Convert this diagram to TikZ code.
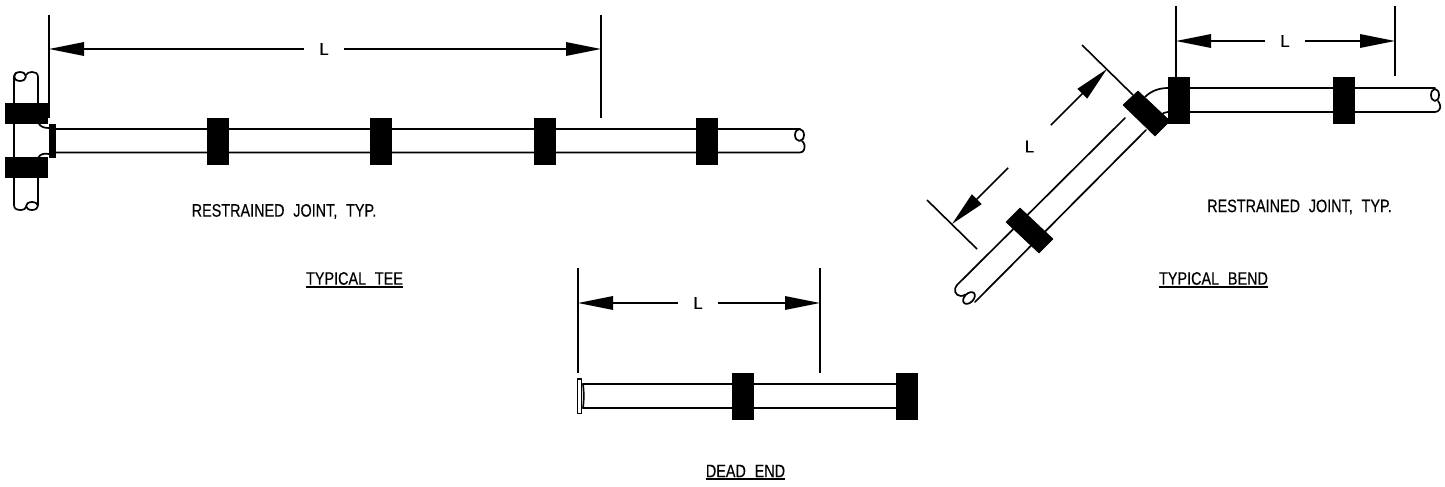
\documentclass[tikz,border=0pt]{standalone}
\usepackage{fontspec}
\newfontfamily\cadfont[FakeStretch=0.8,WordSpace=2.2,FakeBold=0.35]{Liberation Sans}
\newfontfamily\dimfont[FakeBold=0.25]{Liberation Sans}
\usetikzlibrary{arrows.meta}
\tikzset{
  pipeline/.style={line width=1.7pt,line cap=round,line join=round},
  extline/.style={line width=1.6pt},
  dimarrow/.style={line width=1.6pt,-{Triangle[length=35pt,width=13.5pt]}},
  jointblock/.style={fill=black,draw=black,line width=.6pt},
  dimlabel/.style={circle,inner sep=0pt,minimum size=40pt,font=\dimfont\fontsize{17}{18}\selectfont},
  note/.style={inner sep=0pt,font=\cadfont\fontsize{18}{19}\selectfont},
  titleline/.style={line width=1.5pt}
}
\begin{document}
\begin{tikzpicture}[x=1pt,y=-1pt]
\useasboundingbox (0,0) rectangle (1445,487);
% --- TEE ---
\draw[pipeline] (14,78) -- (14,205) .. controls (14,209) and (17,210) .. (21,210)
   .. controls (24,210) and (25,209) .. (26,207);
\draw[pipeline] (32,206) ellipse (6pt and 4pt);
\draw[pipeline] (38,205) -- (38,177);
\draw[pipeline] (38,103) -- (38,77) .. controls (38,73) and (35,72) .. (32,72)
   .. controls (29,72) and (27,73) .. (26,75);
\draw[pipeline] (20,76.5) ellipse (6pt and 4.5pt);
\draw[pipeline] (14,78) .. controls (14,75) and (15,74) .. (16,73);
\draw[pipeline] (38,122) .. controls (40,127) and (44,128) .. (49,128);
\draw[pipeline] (38,158) .. controls (40,154) and (44,153) .. (49,154);
\draw[pipeline] (56,129) -- (800,129);
\draw[pipeline] (56,152.5) -- (800,152.5) .. controls (804,152.5) and (805,148) .. (804.5,145)
   .. controls (804,143) and (803,142) .. (802,141);
\draw[pipeline] (799.5,135) ellipse (4.5pt and 6pt);
\fill[black] (49,124) rectangle (56,158);
\foreach \jx in {207,370,534,696}{\filldraw[jointblock] (\jx,118) rectangle ++(21,46);}
\filldraw[jointblock] (5,103) rectangle (47,123);
\filldraw[jointblock] (5,157) rectangle (47,177);
\draw[extline] (49,15) -- (49,118);
\draw[extline] (601,15) -- (601,118);
\node[dimlabel] (ltee) at (324,49) {L};
\coordinate (teeA) at (49,49);
\coordinate (teeB) at (601,49);
\draw[dimarrow] (ltee) -- (teeA);
\draw[dimarrow] (ltee) -- (teeB);
\node[note] (nt1) at (284,211.5) {RESTRAINED JOINT, TYP.};
\node[note] (tt1) at (354.5,278.5) {TYPICAL TEE};
\draw[titleline] ([yshift=-1.8pt]tt1.south west) -- ([yshift=-1.8pt]tt1.south east);
% --- DEAD END ---
\draw[pipeline] (583,384) -- (896,384);
\draw[pipeline] (583,408) -- (896,408);
\draw[pipeline] (583,384) .. controls (584,392) and (584,400) .. (583,408);
\draw[pipeline,fill=white] (577.5,379) rectangle (581.5,413.5);
\foreach \jx in {732,896}{\filldraw[jointblock] (\jx,373) rectangle ++(21,46);}
\draw[extline] (578,268) -- (578,373);
\draw[extline] (820,268) -- (820,373);
\node[dimlabel] (ldead) at (698,303) {L};
\coordinate (deadA) at (578,303);
\coordinate (deadB) at (820,303);
\draw[dimarrow] (ldead) -- (deadA);
\draw[dimarrow] (ldead) -- (deadB);
\node[note] (tt3) at (745.5,471) {DEAD END};
\draw[titleline] ([yshift=-1.8pt]tt3.south west) -- ([yshift=-1.8pt]tt3.south east);
% --- BEND ---
\draw[pipeline] (1189,88) -- (1435,88);
\draw[pipeline] (1189,112) -- (1435,112) .. controls (1439,112) and (1441,108) .. (1440,105)
   .. controls (1439.5,103) and (1438.5,102) .. (1438,101);
\draw[pipeline] (1435,95) ellipse (4pt and 6pt);
\draw[pipeline] (1145,97) .. controls (1151,91) and (1159,88) .. (1168,88);
\draw[pipeline] (1160,116) .. controls (1163,113) and (1165,112) .. (1168,112);
\draw[pipeline] (1125,118) -- (957,285) .. controls (953,289) and (955,296) .. (961,296)
   .. controls (963,296) and (964,295.5) .. (965,294.5);
\draw[pipeline] (1146,130) -- (975,302);
\draw[pipeline,rotate around={45:(969,298)}] (969,298) ellipse (7pt and 4.5pt);
\foreach \jx in {1168,1333}{\filldraw[jointblock] (\jx,77) rectangle ++(21,46);}
\filldraw[jointblock] (1138,91) -- (1123,105) -- (1155,136) -- (1170,121) -- cycle;
\filldraw[jointblock] (1020,208) -- (1006,222) -- (1039,253) -- (1053,239) -- cycle;
\draw[extline] (1176,6) -- (1176,77);
\draw[extline] (1395,6) -- (1395,76);
\node[dimlabel] (lbendh) at (1285,41) {L};
\coordinate (bendA) at (1176,41);
\coordinate (bendB) at (1395,41);
\draw[dimarrow] (lbendh) -- (bendA);
\draw[dimarrow] (lbendh) -- (bendB);
\draw[extline] (1082,45) -- (1133,95);
\draw[extline] (927,200) -- (977,249);
\node[dimlabel,minimum size=60pt] (lbendd) at (1029.5,146.5) {L};
\coordinate (bendC) at (1107,69);
\coordinate (bendD) at (952,224);
\draw[dimarrow] (lbendd) -- (bendC);
\draw[dimarrow] (lbendd) -- (bendD);
\node[note] (nt2) at (1299.5,207) {RESTRAINED JOINT, TYP.};
\node[note] (tt2) at (1213.5,278.5) {TYPICAL BEND};
\draw[titleline] ([yshift=-1.8pt]tt2.south west) -- ([yshift=-1.8pt]tt2.south east);
\end{tikzpicture}
\end{document}
